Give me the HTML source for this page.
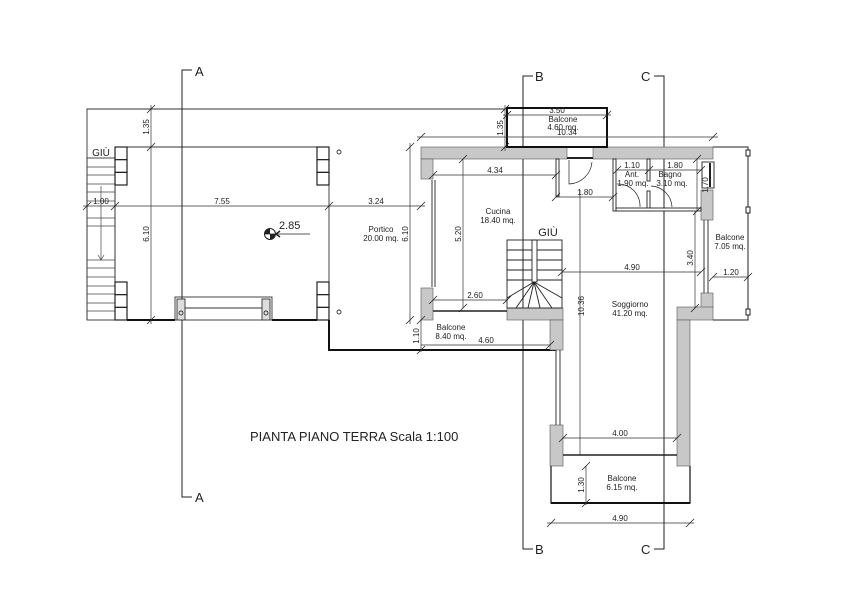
<!DOCTYPE html>
<html><head><meta charset="utf-8"><style>
html,body{margin:0;padding:0;background:#fff}
svg{display:block}
text{font-family:"Liberation Sans",sans-serif;fill:#222}
</style></head><body>
<svg width="842" height="595" viewBox="0 0 842 595" xmlns="http://www.w3.org/2000/svg">
<defs>
<g id="t"><line x1="-4" y1="4" x2="4" y2="-4" stroke="#222" stroke-width="0.8"/></g>
</defs>
<!-- section lines -->
<g stroke="#222" stroke-width="1" fill="none">
<polyline points="192,70 182,70 182,497 192,497"/>
<polyline points="533,76 523,76 523,549 533,549"/>
<polyline points="654,76 664,76 664,549 654,549"/>
</g>
<g font-size="13">
<text x="195" y="76">A</text><text x="195" y="502">A</text>
<text x="535" y="81">B</text><text x="535" y="554">B</text>
<text x="641" y="81">C</text><text x="641" y="554">C</text>
</g>
<!-- left terrace -->
<g stroke="#333" stroke-width="0.9" fill="none">
<polyline points="87,320 87,109 505,109"/>
<line x1="127" y1="147" x2="317" y2="147"/>
<line x1="115" y1="185" x2="115" y2="282"/>
<line x1="329" y1="185" x2="329" y2="282"/>
<rect x="87" y="158" width="28" height="162"/>
</g>
<g stroke="#444" stroke-width="0.7">
<line x1="87" y1="167" x2="115" y2="167"/><line x1="87" y1="175" x2="115" y2="175"/><line x1="87" y1="184" x2="115" y2="184"/><line x1="87" y1="192" x2="115" y2="192"/><line x1="87" y1="201" x2="115" y2="201"/><line x1="87" y1="218" x2="115" y2="218"/><line x1="87" y1="226" x2="115" y2="226"/>
<line x1="87" y1="260" x2="115" y2="260"/><line x1="87" y1="268" x2="115" y2="268"/><line x1="87" y1="277" x2="115" y2="277"/><line x1="87" y1="286" x2="115" y2="286"/><line x1="87" y1="294" x2="115" y2="294"/><line x1="87" y1="303" x2="115" y2="303"/><line x1="87" y1="311" x2="115" y2="311"/>
<line x1="101" y1="186" x2="101" y2="260"/><polyline points="98,255 101,260 104,255" fill="none"/>
</g>
<g stroke="#222" stroke-width="1.2" fill="#fff">
<rect x="115" y="147" width="12" height="12.7"/><rect x="115" y="159.7" width="12" height="12.7"/><rect x="115" y="172.4" width="12" height="12.6"/>
<rect x="115" y="282" width="12" height="12.7"/><rect x="115" y="294.7" width="12" height="12.7"/><rect x="115" y="307.4" width="12" height="12.6"/>
<rect x="317" y="147" width="12" height="12.7"/><rect x="317" y="159.7" width="12" height="12.7"/><rect x="317" y="172.4" width="12" height="12.6"/>
<rect x="317" y="282" width="12" height="12.7"/><rect x="317" y="294.7" width="12" height="12.7"/><rect x="317" y="307.4" width="12" height="12.6"/>
</g>
<g stroke="#111" stroke-width="2" fill="none">
<line x1="127" y1="320" x2="175" y2="320"/><line x1="272" y1="320" x2="317" y2="320"/>
<polyline points="329,320 329,350 556,350"/>
</g>
<g stroke="#333" stroke-width="0.9" fill="none">
<rect x="175" y="297" width="97" height="23"/>
<rect x="177" y="299" width="8" height="21" fill="#ddd"/><rect x="262" y="299" width="8" height="21" fill="#ddd"/>
<line x1="185" y1="308" x2="262" y2="308"/>
<circle cx="181" cy="313" r="2"/><circle cx="266" cy="313" r="2"/>
<circle cx="339" cy="152" r="2"/><circle cx="339" cy="312" r="2"/>
</g>
<!-- elevation marker -->
<circle cx="270" cy="234" r="5.5" fill="#fff" stroke="#222"/>
<path d="M270,234 L275.5,234 A5.5,5.5 0 0 1 270,239.5 Z M270,234 L264.5,234 A5.5,5.5 0 0 1 270,228.5 Z" fill="#222"/>
<line x1="264" y1="234" x2="310" y2="234" stroke="#222" stroke-width="0.8"/>
<polyline points="280,231 276,234 280,237" fill="none" stroke="#222" stroke-width="1.5"/>
<text x="279" y="229" font-size="11">2.85</text>
<!-- main building walls -->
<g fill="#c8c8c8" stroke="#555" stroke-width="0.6">
<rect x="421" y="147" width="146" height="12"/>
<rect x="593" y="147" width="120" height="12"/>
<rect x="421" y="159" width="12" height="20"/>
<rect x="421" y="288" width="12" height="32"/>
<rect x="507" y="308" width="56" height="12"/>
<rect x="550" y="320" width="13" height="30"/>
<rect x="550" y="425" width="13" height="41"/>
<rect x="701" y="190" width="12" height="30"/>
<rect x="701" y="293" width="12" height="15"/>
<rect x="677" y="307" width="36" height="13"/>
<rect x="677" y="320" width="13" height="146"/>
</g>
<g stroke="#222" stroke-width="0.9" fill="none">
<line x1="432" y1="180" x2="432" y2="287"/><line x1="435" y1="180" x2="435" y2="287"/>
<line x1="433" y1="311" x2="507" y2="311" stroke-width="1.5"/>
<line x1="556" y1="350" x2="556" y2="425"/><line x1="560" y1="350" x2="560" y2="425"/>
<line x1="563" y1="455" x2="677" y2="455" stroke-width="1.6"/>
<line x1="704" y1="220" x2="704" y2="293"/><line x1="708" y1="220" x2="708" y2="293"/>
<rect x="702" y="162" width="12" height="26" fill="#fff"/><line x1="710" y1="163" x2="710" y2="187" stroke-width="2"/>
<line x1="567" y1="158" x2="593" y2="158" stroke-width="2"/>
<path d="M569,160 L569,184 A24,24 0 0 0 592,162" stroke-width="0.7"/>
</g>
<!-- partitions -->
<g fill="#fff" stroke="#222" stroke-width="0.9">
<rect x="556" y="159" width="3" height="37"/>
<rect x="613" y="159" width="3" height="52"/>
<rect x="647" y="159" width="3" height="22"/>
<rect x="647" y="191" width="3" height="20"/>
<rect x="616" y="208" width="85" height="3"/>
</g>
<g stroke="#222" stroke-width="0.7" fill="none">
<path d="M617,184 A22,22 0 0 1 640,207"/>
<path d="M651,186 A22,22 0 0 1 672,207"/>
</g>
<!-- top balcony -->
<rect x="507" y="108" width="100" height="39" fill="none" stroke="#111" stroke-width="2"/>
<!-- right balcony -->
<g stroke="#222" stroke-width="1" fill="none">
<polyline points="713,147 748,147 748,320 713,320"/>
<rect x="746" y="150" width="4" height="6" fill="#fff"/><rect x="746" y="207" width="4" height="6" fill="#fff"/><rect x="746" y="309" width="4" height="6" fill="#fff"/>
</g>
<!-- bottom balcony -->
<g stroke="#111" fill="none">
<polyline points="551,466 551,503 690,503 690,466" stroke-width="1.2"/>
<line x1="551" y1="503" x2="690" y2="503" stroke-width="2"/>
</g>
<!-- stair -->
<g stroke="#222" stroke-width="0.9" fill="none">
<rect x="507" y="240" width="55" height="68"/>
<rect x="532" y="240" width="5" height="42"/>
<line x1="507" y1="250" x2="532" y2="250"/><line x1="507" y1="260" x2="532" y2="260"/><line x1="507" y1="270" x2="532" y2="270"/><line x1="507" y1="280" x2="532" y2="280"/>
<line x1="537" y1="250" x2="562" y2="250"/><line x1="537" y1="260" x2="562" y2="260"/><line x1="537" y1="270" x2="562" y2="270"/><line x1="537" y1="280" x2="562" y2="280"/>
<line x1="534" y1="282" x2="507" y2="298"/><line x1="534" y1="282" x2="516" y2="308"/><line x1="534" y1="282" x2="528" y2="308"/><line x1="534" y1="282" x2="540" y2="308"/><line x1="534" y1="282" x2="552" y2="308"/><line x1="534" y1="282" x2="562" y2="298"/>
</g>
<!-- dimension lines -->
<g stroke="#333" stroke-width="0.7">
<line x1="151" y1="105" x2="151" y2="324"/>
<line x1="83" y1="206" x2="425" y2="206"/>
<line x1="410" y1="143" x2="410" y2="324"/>
<line x1="417" y1="137" x2="718" y2="137"/>
<line x1="503" y1="115" x2="611" y2="115"/>
<line x1="505" y1="105" x2="505" y2="151"/>
<line x1="433" y1="175" x2="556" y2="175"/>
<line x1="556" y1="197" x2="613" y2="197"/>
<line x1="617" y1="170" x2="702" y2="170"/>
<line x1="697" y1="159" x2="697" y2="211"/>
<line x1="463" y1="159" x2="463" y2="308"/>
<line x1="433" y1="300" x2="507" y2="300"/>
<line x1="562" y1="272" x2="701" y2="272"/>
<line x1="695" y1="211" x2="695" y2="308"/>
<line x1="713" y1="277" x2="748" y2="277"/>
<line x1="580" y1="190" x2="580" y2="455"/>
<line x1="421" y1="320" x2="421" y2="352"/>
<line x1="421" y1="345" x2="550" y2="345"/>
<line x1="563" y1="438" x2="677" y2="438"/>
<line x1="586" y1="466" x2="586" y2="505"/>
<line x1="547" y1="523" x2="694" y2="523"/>
</g>
<g>
<use href="#t" x="151" y="109"/><use href="#t" x="151" y="147"/><use href="#t" x="151" y="320"/>
<use href="#t" x="87" y="206"/><use href="#t" x="115" y="206"/><use href="#t" x="329" y="206"/><use href="#t" x="421" y="206"/>
<use href="#t" x="410" y="147"/><use href="#t" x="410" y="320"/>
<use href="#t" x="421" y="137"/><use href="#t" x="713" y="137"/>
<use href="#t" x="507" y="115"/><use href="#t" x="607" y="115"/>
<use href="#t" x="505" y="109"/><use href="#t" x="505" y="147"/>
<use href="#t" x="433" y="175"/><use href="#t" x="556" y="175"/>
<use href="#t" x="556" y="197"/><use href="#t" x="613" y="197"/>
<use href="#t" x="617" y="170"/><use href="#t" x="649" y="170"/><use href="#t" x="701" y="170"/>
<use href="#t" x="697" y="159"/><use href="#t" x="697" y="211"/>
<use href="#t" x="463" y="159"/><use href="#t" x="463" y="308"/>
<use href="#t" x="433" y="300"/><use href="#t" x="507" y="300"/>
<use href="#t" x="562" y="272"/><use href="#t" x="701" y="272"/>
<use href="#t" x="695" y="308"/><use href="#t" x="713" y="277"/><use href="#t" x="748" y="277"/>
<use href="#t" x="421" y="320"/><use href="#t" x="421" y="350"/><use href="#t" x="550" y="345"/>
<use href="#t" x="563" y="438"/><use href="#t" x="677" y="438"/>
<use href="#t" x="586" y="466"/><use href="#t" x="586" y="503"/>
<use href="#t" x="551" y="523"/><use href="#t" x="690" y="523"/>
</g>
<g font-size="8" text-anchor="middle">
<text x="101" y="204">1.00</text><text x="222" y="204">7.55</text><text x="376" y="204">3.24</text>
<text x="567" y="135">10.34</text><text x="557" y="113">3.50</text>
<text x="495" y="173">4.34</text><text x="585" y="195">1.80</text>
<text x="632" y="168">1.10</text><text x="675" y="168">1.80</text>
<text x="475" y="298">2.60</text><text x="632" y="270">4.90</text><text x="731" y="275">1.20</text>
<text x="486" y="343">4.60</text><text x="620" y="436">4.00</text><text x="620" y="521">4.90</text>
<text transform="translate(149,127) rotate(-90)">1.35</text>
<text transform="translate(149,234) rotate(-90)">6.10</text>
<text transform="translate(408,234) rotate(-90)">6.10</text>
<text transform="translate(503,128) rotate(-90)">1.35</text>
<text transform="translate(708,185) rotate(-90)">1.70</text>
<text transform="translate(461,234) rotate(-90)">5.20</text>
<text transform="translate(693,258) rotate(-90)">3.40</text>
<text transform="translate(584,306) rotate(-90)">10.36</text>
<text transform="translate(419,336) rotate(-90)">1.10</text>
<text transform="translate(584,485) rotate(-90)">1.30</text>
</g>
<g font-size="8" text-anchor="middle">
<text x="381" y="232">Portico</text><text x="381" y="241">20.00 mq.</text>
<text x="498" y="214">Cucina</text><text x="498" y="223">18.40 mq.</text>
<text x="630" y="307">Soggiorno</text><text x="630" y="316">41.20 mq.</text>
<text x="451" y="330">Balcone</text><text x="451" y="339">8.40 mq.</text>
<text x="730" y="240">Balcone</text><text x="730" y="249">7.05 mq.</text>
<text x="563" y="122">Balcone</text><text x="563" y="130">4.60 mq.</text>
<text x="632" y="177">Ant.</text><text x="633" y="186">1.90 mq.</text>
<text x="670" y="177">Bagno</text><text x="672" y="186">3.10 mq.</text>
<text x="622" y="481">Balcone</text><text x="622" y="490">6.15 mq.</text>
</g>
<text x="548" y="236" font-size="11" text-anchor="middle">GIÙ</text>
<text x="101" y="156" font-size="10" text-anchor="middle">GIÙ</text>
<text x="250" y="441" font-size="13">PIANTA PIANO TERRA Scala 1:100</text>
</svg>
</body></html>
